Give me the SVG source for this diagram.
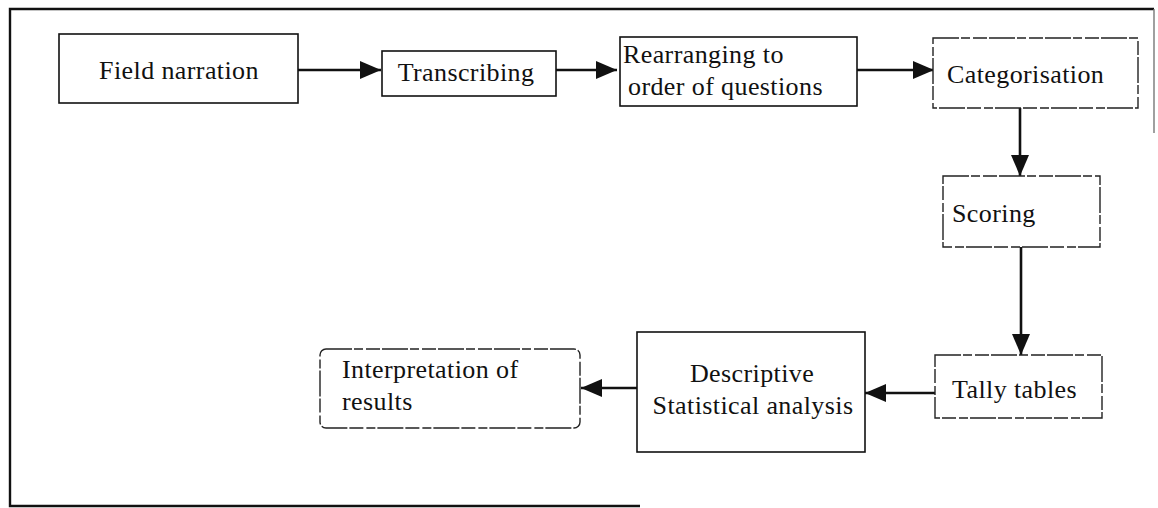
<svg xmlns="http://www.w3.org/2000/svg" width="1158" height="508" viewBox="0 0 1158 508">
  <style>
    .box { fill: #ffffff; stroke: #111111; stroke-width: 1.6; }
    .broken { fill: #ffffff; stroke: #222222; stroke-width: 1.4; stroke-dasharray: 26 2 9 3 14 2; }
    .label { font-family: "Liberation Serif", "Times New Roman", serif; font-size: 26px; fill: #111111; letter-spacing: 0.4px; }
    .mid { text-anchor: middle; }
    .edge { stroke: #111111; stroke-width: 2.6; fill: none; marker-end: url(#head); }
    .frame { stroke: #111111; stroke-width: 2.4; fill: none; }
  </style>
  <defs>
    <marker id="head" markerUnits="userSpaceOnUse" markerWidth="22" markerHeight="18" refX="21" refY="9" orient="auto">
      <path d="M0,0 L21,9 L0,18 Z" fill="#111111"/>
    </marker>
  </defs>

  <rect width="1158" height="508" fill="#ffffff"/>

  <!-- outer frame (open at lower right) -->
  <g id="frame">
    <path class="frame" d="M640,506 L10,506 L10,9 L1154,9"/>
    <path d="M1154,9 L1154,133" stroke="#777777" stroke-width="1.4" fill="none"/>
  </g>

  <!-- connectors -->
  <g id="connectors">
    <line class="edge" x1="298" y1="70" x2="381" y2="70"/>
    <line class="edge" x1="556" y1="70" x2="617" y2="70"/>
    <line class="edge" x1="857" y1="70" x2="934" y2="70"/>
    <line class="edge" x1="1020" y1="108" x2="1020" y2="176"/>
    <line class="edge" x1="1021" y1="247" x2="1021" y2="355"/>
    <line class="edge" x1="950" y1="393" x2="865" y2="393"/>
    <line class="edge" x1="637" y1="388" x2="581" y2="388"/>
  </g>

  <g id="field-narration">
    <rect class="box" x="59" y="34" width="239" height="69"/>
    <text class="label mid" x="179" y="79">Field narration</text>
  </g>

  <g id="transcribing">
    <rect class="box" x="382" y="51" width="174" height="45"/>
    <text class="label mid" x="466" y="81">Transcribing</text>
  </g>

  <g id="rearranging">
    <rect class="box" x="620" y="37" width="237" height="69"/>
    <text class="label" x="623" y="63">Rearranging to</text>
    <text class="label" x="628" y="95">order of questions</text>
  </g>

  <g id="categorisation">
    <rect class="broken" x="933" y="38" width="205" height="70"/>
    <text class="label" x="947" y="83">Categorisation</text>
  </g>

  <g id="scoring">
    <rect class="broken" x="943" y="176" width="157" height="71"/>
    <text class="label" x="952" y="222">Scoring</text>
  </g>

  <g id="tally-tables">
    <rect class="broken" x="935" y="355" width="167" height="63"/>
    <text class="label" x="952" y="398">Tally tables</text>
  </g>

  <g id="descriptive-analysis">
    <rect class="box" x="637" y="332" width="228" height="120"/>
    <text class="label mid" x="752" y="382">Descriptive</text>
    <text class="label mid" x="753" y="414">Statistical analysis</text>
  </g>

  <g id="interpretation">
    <rect class="broken" x="320" y="349" width="260" height="79" rx="6" ry="6"/>
    <text class="label" x="342" y="378">Interpretation of</text>
    <text class="label" x="342" y="410">results</text>
  </g>
</svg>
